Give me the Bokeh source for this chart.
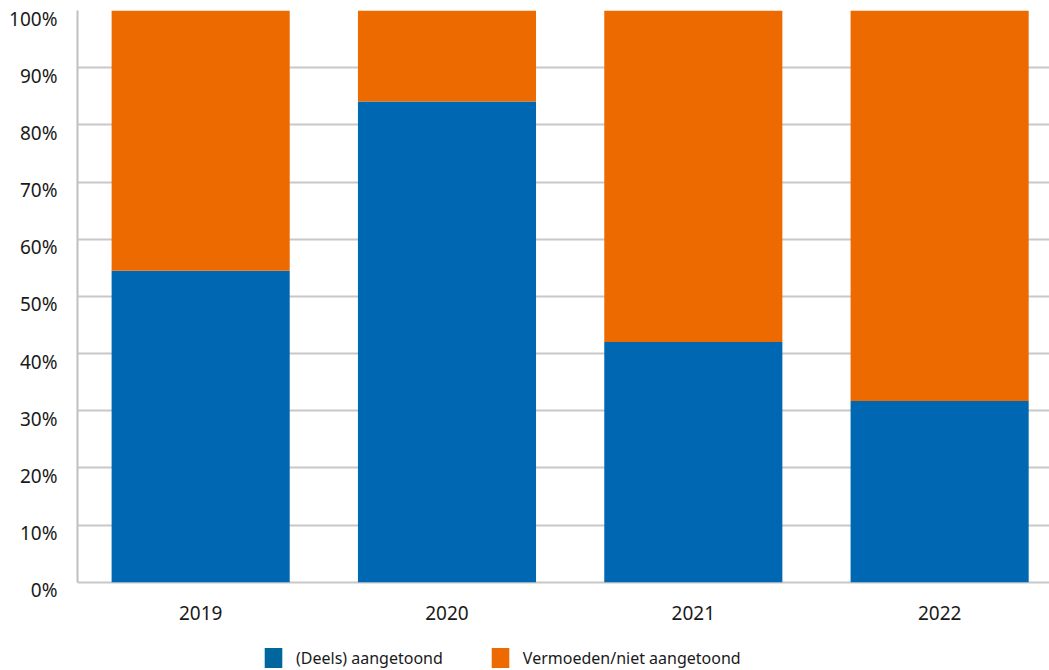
from bokeh.plotting import figure
from bokeh.layouts import column
from bokeh.models import (Range1d, FixedTicker, PrintfTickFormatter, Legend, LegendItem,
                          ColumnDataSource, LinearAxis)
from bokeh.embed import file_html
from bokeh.resources import INLINE

years = ["2019", "2020", "2021", "2022"]
aangetoond = [54.5, 84.1, 42.0, 31.7]
vermoeden = [100 - v for v in aangetoond]
series_names = ["(Deels) aangetoond", "Vermoeden/niet aangetoond"]
bar_colors = ["#0067b2", "#ec6a00"]
legend_colors = ["#00679e", "#ec6a00"]
y_ticks = [0, 10, 20, 30, 40, 50, 60, 70, 80, 90, 100]

xs = list(range(len(years)))
src = ColumnDataSource(dict(x=xs, a=aangetoond, v=vermoeden))

shift = 1.4  # tick labels sit a little below their gridline
ymin = -1.45
p = figure(width=1049, height=640, output_backend="svg", toolbar_location=None,
           x_range=Range1d(-0.5, 3.446), y_range=Range1d(ymin, 100),
           y_axis_location=None, x_axis_location=None,
           min_border_left=77, min_border_right=0, min_border_top=10, min_border_bottom=50)
p.extra_y_ranges = {"lab": Range1d(ymin + shift, 100 + shift)}
p.outline_line_color = None
p.background_fill_color = "white"

r = p.vbar_stack(["a", "v"], x="x", width=0.723, color=bar_colors, line_color=None, source=src)

font = "Noto Sans"
axis_col = "#c0c0c0"

xaxis = LinearAxis(ticker=FixedTicker(ticks=xs), axis_line_color=None,
                   major_label_overrides={i: y for i, y in enumerate(years)})
yline = LinearAxis(ticker=FixedTicker(ticks=[]), bounds=(0, 100), major_label_standoff=0)
ylab = LinearAxis(y_range_name="lab", ticker=FixedTicker(ticks=y_ticks),
                  formatter=PrintfTickFormatter(format="%d%%"), axis_line_color=None)
for ax in (xaxis, yline, ylab):
    ax.major_tick_line_color = None
    ax.minor_tick_line_color = None
    ax.major_label_text_font = font
    ax.major_label_text_color = "#1a1a1a"
yline.axis_line_color = axis_col
yline.axis_line_width = 2
xaxis.major_label_text_font_size = "19px"
xaxis.major_label_standoff = 9
ylab.major_label_text_font_size = "19px"
ylab.major_label_standoff = 14

p.add_layout(xaxis, "below")
p.add_layout(yline, "left")
p.add_layout(ylab, "left")

p.xgrid.visible = False
p.ygrid.grid_line_color = "#c8c8c8"
p.ygrid.grid_line_width = 2
p.ygrid.ticker = FixedTicker(ticks=y_ticks)

# legend in its own strip below the chart
lg = figure(width=1049, height=30, output_backend="svg", toolbar_location=None,
            x_range=Range1d(0, 1), y_range=Range1d(0, 1),
            x_axis_location=None, y_axis_location=None,
            min_border_left=0, min_border_right=0, min_border_top=0, min_border_bottom=0)
lg.outline_line_color = None
lg.xgrid.visible = False
lg.ygrid.visible = False
proxies = []
for c in legend_colors:
    proxies.append(lg.rect(x=[-5], y=[-5], width=0.01, height=0.01, color=c, line_color=None))
legend = Legend(items=[LegendItem(label=n, renderers=[pr]) for n, pr in zip(series_names, proxies)],
                orientation="horizontal", location=(185, 0),
                glyph_width=22, glyph_height=25, label_standoff=12, spacing=46,
                label_text_font=font, label_text_font_size="16px", label_text_color="#1a1a1a",
                border_line_color=None, background_fill_alpha=0, padding=0, margin=0)
lg.add_layout(legend, "center")

layout = column(p, lg, spacing=0)
open("out.html", "w").write(file_html(layout, INLINE))
